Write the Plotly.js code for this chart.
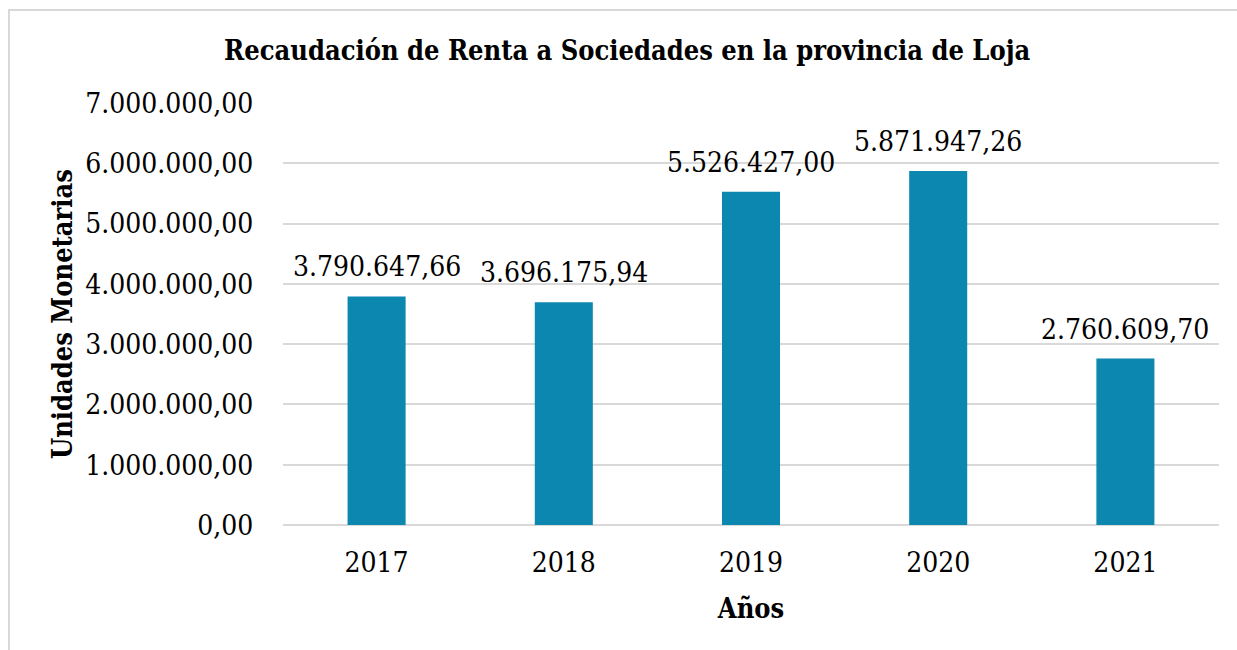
<!DOCTYPE html>
<html>
<head>
<meta charset="utf-8">
<script src="https://cdn.plot.ly/plotly-3.0.1.min.js"></script>
<style>
  html, body { margin: 0; padding: 0; background: #fff; }
  #frame { position: absolute; left: 8px; top: 9px; width: 1300px; height: 700px; border-left: 2px solid #d9d9d9; border-top: 2px solid #d9d9d9; }
  #chart { position: absolute; left: 0; top: 0; width: 1237px; height: 650px; }
</style>
</head>
<body>
<div id="frame"></div>
<div id="chart"></div>
<script>
const years = ["2017", "2018", "2019", "2020", "2021"];
const values = [3790647.66, 3696175.94, 5526427.00, 5871947.26, 2760609.70];
const valueLabels = ["3.790.647,66", "3.696.175,94", "5.526.427,00", "5.871.947,26", "2.760.609,70"];
const yTickVals = [0, 1000000, 2000000, 3000000, 4000000, 5000000, 6000000, 7000000];
const yTickText = ["0,00", "1.000.000,00", "2.000.000,00", "3.000.000,00", "4.000.000,00", "5.000.000,00", "6.000.000,00", "7.000.000,00"];

const font = "DejaVu Serif Condensed, DejaVu Serif";

const trace = {
  type: "bar",
  x: years,
  y: values,
  marker: { color: "#0b87b0" },
  hoverinfo: "none"
};

const annotations = years.map((yr, i) => ({
  x: i, y: values[i], xref: "x", yref: "y",
  text: valueLabels[i], showarrow: false,
  yanchor: "bottom", yshift: 12, borderpad: 0,
  font: { family: font, size: 28, color: "#000" }
}));

const layout = {
  width: 1237, height: 650,
  margin: { l: 283, r: 18, t: 103, b: 125 },
  paper_bgcolor: "rgba(0,0,0,0)",
  plot_bgcolor: "rgba(0,0,0,0)",
  showlegend: false,
  bargap: 0.69,
  title: {
    text: "<b>Recaudación de Renta a Sociedades en la provincia de Loja</b>",
    font: { family: font, size: 27, color: "#000" },
    x: 0.507, xanchor: "center", y: 0.923, yanchor: "middle"
  },
  xaxis: {
    type: "category",
    range: [-0.5, 4.5],
    showgrid: false, zeroline: false, showline: false,
    ticks: "outside", ticklen: 12, tickcolor: "rgba(0,0,0,0)",
    tickfont: { family: font, size: 28, color: "#000" },
    title: { text: "<b>Años</b>", font: { family: font, size: 27, color: "#000" }, standoff: 21 },
    automargin: false
  },
  yaxis: {
    range: [0, 7000000],
    tickvals: yTickVals, ticktext: yTickText,
    showgrid: true, gridcolor: "#d9d9d9", gridwidth: 2,
    zeroline: true, zerolinecolor: "#d9d9d9", zerolinewidth: 2,
    showline: false, ticks: "outside", ticklen: 23, tickcolor: "rgba(0,0,0,0)",
    tickfont: { family: font, size: 28, color: "#000" },
    title: { text: "<b>Unidades Monetarias</b>", font: { family: font, size: 27, color: "#000" }, standoff: 4 },
    automargin: false
  },
  annotations: annotations
};

Plotly.newPlot("chart", [trace], layout, { displayModeBar: false, staticPlot: true });
</script>
</body>
</html>
